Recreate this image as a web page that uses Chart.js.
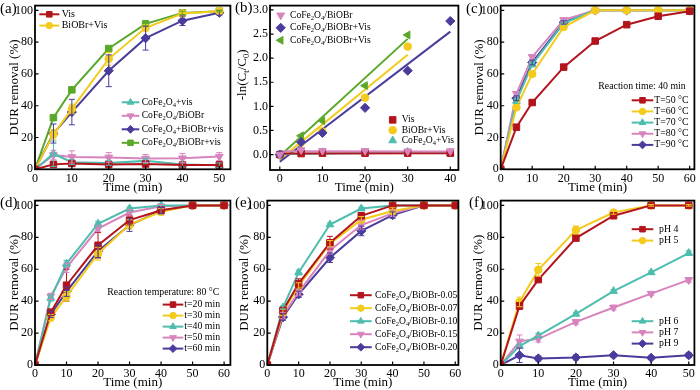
<!DOCTYPE html>
<html>
<head>
<meta charset="utf-8">
<script src="https://cdn.jsdelivr.net/npm/chart.js@4.4.0/dist/chart.umd.min.js"></script>
<style>
  body{margin:0;background:#fff;}
  #fig{position:relative;width:700px;height:390px;overflow:hidden;font-family:"Liberation Serif","Times New Roman",serif;}
  .pane{position:absolute;}
  .tag{position:absolute;font-size:15px;line-height:16px;color:#000;}
</style>
</head>
<body>
<div id="fig">
  <div class="pane" style="left:0;top:0;width:236px;height:195px"><canvas id="pa"></canvas></div>
  <div class="pane" style="left:236px;top:0;width:228px;height:195px"><canvas id="pb"></canvas></div>
  <div class="pane" style="left:464px;top:0;width:236px;height:195px"><canvas id="pc"></canvas></div>
  <div class="pane" style="left:0;top:195px;width:236px;height:195px"><canvas id="pd"></canvas></div>
  <div class="pane" style="left:236px;top:195px;width:228px;height:195px"><canvas id="pe"></canvas></div>
  <div class="pane" style="left:464px;top:195px;width:236px;height:195px"><canvas id="pf"></canvas></div>
  <div class="tag" style="left:0;top:0">(a)</div>
  <div class="tag" style="left:235px;top:-1px">(b)</div>
  <div class="tag" style="left:466px;top:0">(c)</div>
  <div class="tag" style="left:0;top:194px">(d)</div>
  <div class="tag" style="left:235px;top:194px">(e)</div>
  <div class="tag" style="left:469px;top:194px">(f)</div>
</div>
<script>
// ---- (a) DUR removal under different systems
const timeA = [0, 5, 10, 20, 30, 40, 50];
const visA = [0, 3.1, 3.7, 3.0, 3.3, 2.7, 2.7];
const visErrA = [0, 1.5, 1.5, 1.5, 1.5, 1.5, 2.2];
const biobrA = [0, 22, 38, 69.5, 89, 98, 99.5];
const biobrErrA = [0, 3, 3, 4, 2, 1, 1];
const cofeA = [0, 9.8, 4.5, 4, 5.3, 3, 2.5];
const cofeErrA = [0, 8, 1.5, 1.5, 1.5, 1.5, 1.5];
const darkA = [0, 9, 7.8, 7.5, 6.8, 7, 8];
const darkErrA = [0, 3, 3.8, 3, 2.5, 3, 2.5];
const mixA = [0, 22.5, 36, 62, 82.5, 93.5, 98.5];
const mixErrA = [0, 6, 8, 10, 7.5, 3, 1.5];
const compA = [0, 32.5, 50, 76, 91.5, 98.4, 99.5];
const compErrA = [0, 1, 1, 1, 1, 1, 0.5];

// ---- (b) kinetics -ln(Ct/C0)
const timeB = [0, 5, 10, 20, 30, 40];
const timeB30 = [0, 5, 10, 20, 30];
const darkB = [0, 0.094, 0.081, 0.078, 0.07, 0.073];
const mixB = [0, 0.26, 0.45, 0.97, 1.74, 2.77];
const compB = [0, 0.39, 0.70, 1.43, 2.48];
const visB = [0, 0.02, 0.03, 0.03, 0.03, 0.03];
const biobrB = [0, 0.25, 0.48, 1.18, 2.24];
const cofeB = [0, 0.1, 0.046, 0.04, 0.054, 0.03];
const fitX30 = [0, 30];
const fitX40 = [0, 40];
const fitComp = [-0.03, 2.40];
const fitBiobr = [-0.10, 2.07];
const fitMix = [-0.15, 2.55];
const fitVis = [0.02, 0.03];
const fitDark = [0.07, 0.065];
const fitCofe = [0.01, 0.05];

// ---- (c) reaction temperature
const timeC = [0, 5, 10, 20, 30, 40, 50, 60];
const t50 = [0, 26.5, 42, 64.3, 80.7, 91, 96.3, 99.5];
const t60 = [0, 39, 60, 89.5, 100, 100, 100, 100];
const t70 = [0, 43, 66, 92, 100, 100, 100, 100];
const t80 = [0, 47.5, 70.7, 94, 100, 100, 100, 100];
const t90 = [0, 44.7, 67.2, 92.4, 100, 100, 100, 100];
const errC = [0, 1.5, 1.5, 1, 0, 0, 0, 0];

// ---- (d) reaction time
const d20 = [0, 33, 50, 75, 90.8, 97, 100, 100];
const d20Err = [0, 2, 10, 8, 3, 2, 0, 0];
const d30 = [0, 29.7, 43, 69.7, 88, 96, 100, 100];
const d30Err = [0, 2, 3, 4, 3, 2, 0, 0];
const d40 = [0, 42, 63.5, 88.5, 98, 100, 100, 100];
const d40Err = [0, 2, 2, 1.5, 1, 0, 0, 0];
const d50 = [0, 43, 61, 85.5, 95.5, 99.5, 100, 100];
const d50Err = [0, 2, 3, 2, 2, 1, 0, 0];
const d60 = [0, 31.8, 46, 71.3, 87.7, 96.7, 100, 100];
const d60Err = [0, 2, 3, 4, 4, 2, 0, 0];

// ---- (e) catalyst ratio
const e05 = [0, 34.2, 51, 76.6, 93.5, 100, 100, 100];
const e05Err = [0, 2, 3, 4, 2, 1, 0, 0];
const e07 = [0, 33, 49.5, 76, 91, 96.5, 100, 100];
const e07Err = [0, 2, 2, 2, 2, 2, 0, 0];
const e10 = [0, 36, 58, 88, 98, 100, 100, 100];
const e10Err = [0, 1, 1.5, 1, 1, 0, 0, 0];
const e15 = [0, 31, 45.5, 71.7, 87.7, 95, 100, 100];
const e15Err = [0, 2, 2, 2, 3, 2, 0, 0];
const e20 = [0, 30, 44.3, 67.2, 84, 93.9, 100, 100];
const e20Err = [0, 2, 2, 3, 3, 2, 0, 0];

// ---- (f) pH
const timeF = [0, 5, 10, 20, 30, 40, 50];
const ph4 = [0, 37, 53.5, 79.5, 93.5, 100, 100];
const ph4Err = [0, 2, 1.5, 1.5, 1, 0.5, 0.5];
const ph5 = [0, 39.5, 59.6, 84.6, 95.5, 100, 100];
const ph5Err = [0, 3, 4, 2.5, 1, 0.5, 0.5];
const ph6 = [0, 11.9, 18.4, 32, 46.3, 58, 70.1];
const ph6Err = [0, 1, 1.5, 1, 1, 1, 1.5];
const ph7 = [0, 14.8, 16.4, 27, 36, 44.7, 53.3];
const ph7Err = [0, 4, 2, 1.5, 1.5, 1, 1.5];
const ph9 = [0, 6.1, 4.1, 4.7, 6.1, 4.5, 6.1];
const ph9Err = [0, 4.5, 1.5, 1.5, 1, 1, 1.5];

// ticks
const ticksPct = [0, 20, 40, 60, 80, 100];
const ticksX50 = [0, 10, 20, 30, 40, 50];
const ticksX60 = [0, 10, 20, 30, 40, 50, 60];
const ticksXB = [0, 10, 20, 30, 40];
const ticksYB = [0, 0.5, 1.0, 1.5, 2.0, 2.5, 3.0];

const FONT = "'Liberation Serif', 'Times New Roman', serif";
Chart.defaults.font.family = FONT;
Chart.defaults.color = '#000';
Chart.defaults.animation = false;

const ST = {
  red:  {c: '#b3141c', ps: 'rect', r: 4.6},
  yel:  {c: '#f3cb1d', ps: 'circle', r: 3.8},
  cyan: {c: '#4dbdae', ps: 'triangle', r: 4.5},
  pink: {c: '#d884bd', ps: 'triangle', rot: 180, r: 4.5},
  pur:  {c: '#4a3c9c', ps: 'rectRot', r: 4.6},
  grn:  {c: '#5aa829', ps: 'rect', r: 4.6},
  grnL: {c: '#5aa829', ps: 'triangle', rot: -90, r: 4.5}
};

function ser(label, xs, ys, st, errs){
  return {
    label, data: xs.map((x, i) => ({x, y: ys[i]})),
    borderColor: st.c, backgroundColor: st.c, borderWidth: 2,
    pointStyle: st.ps, pointRotation: st.rot || 0, pointRadius: st.r,
    pointBorderWidth: 1, st, errs
  };
}
function dots(label, xs, ys, st){
  const d = ser(label, xs, ys, st);
  d.showLine = false;
  return d;
}
function fit(xs, ys, st){
  return {data: xs.map((x, i) => ({x, y: ys[i]})), borderColor: st.c, borderWidth: 2, pointRadius: 0, isFit: true};
}

// text with "_x" subscripts
function segs(s){
  const out = []; let cur = '';
  for (let i = 0; i < s.length; i++){
    if (s[i] === '_' && i + 1 < s.length){ if (cur) out.push({t: cur}); cur = ''; out.push({t: s[i+1], sub: true}); i++; }
    else cur += s[i];
  }
  if (cur) out.push({t: cur});
  return out;
}
function richW(ctx, s, size){
  let w = 0;
  segs(s).forEach(g => { ctx.font = (g.sub ? size*0.68 : size) + 'px ' + FONT; w += ctx.measureText(g.t).width; });
  return w;
}
function drawRich(ctx, s, x, y, size){
  ctx.textBaseline = 'middle'; ctx.textAlign = 'left'; ctx.fillStyle = '#000';
  segs(s).forEach(g => {
    ctx.font = (g.sub ? size*0.68 : size) + 'px ' + FONT;
    ctx.fillText(g.t, x, g.sub ? y + size*0.3 : y);
    x += ctx.measureText(g.t).width;
  });
}
function marker(ctx, st, x, y, r){
  ctx.save();
  ctx.translate(x, y);
  ctx.rotate((st.rot || 0) * Math.PI / 180);
  ctx.fillStyle = st.c; ctx.strokeStyle = st.c; ctx.lineWidth = 1;
  ctx.beginPath();
  if (st.ps === 'rect'){ const s = r * Math.SQRT1_2; ctx.rect(-s, -s, 2*s, 2*s); }
  else if (st.ps === 'circle'){ ctx.arc(0, 0, r, 0, Math.PI*2); }
  else if (st.ps === 'rectRot'){ ctx.moveTo(0, -r); ctx.lineTo(r, 0); ctx.lineTo(0, r); ctx.lineTo(-r, 0); ctx.closePath(); }
  else { ctx.moveTo(0, -r); ctx.lineTo(r*0.866, r*0.5); ctx.lineTo(-r*0.866, r*0.5); ctx.closePath(); }
  ctx.fill(); ctx.stroke();
  ctx.restore();
}

function decor(p){
  return {
    id: 'decor',
    afterDatasetsDraw(chart){
      const {ctx, scales: {y}} = chart;
      ctx.save();
      ctx.lineWidth = 1;
      chart.data.datasets.forEach((ds, i) => {
        if (!ds.errs) return;
        const meta = chart.getDatasetMeta(i);
        ctx.strokeStyle = ds.borderColor;
        ds.data.forEach((pt, j) => {
          const e = ds.errs[j];
          if (!e) return;
          const px = meta.data[j].x;
          const y1 = y.getPixelForValue(pt.y + e), y2 = y.getPixelForValue(pt.y - e);
          ctx.beginPath();
          ctx.moveTo(px, y1); ctx.lineTo(px, y2);
          ctx.moveTo(px - 3, y1); ctx.lineTo(px + 3, y1);
          ctx.moveTo(px - 3, y2); ctx.lineTo(px + 3, y2);
          ctx.stroke();
        });
      });
      ctx.restore();
    },
    afterDraw(chart){
      const {ctx, chartArea: a, scales: {x, y}} = chart;
      ctx.save();
      ctx.strokeStyle = '#000';
      ctx.lineWidth = 1.2;
      ctx.beginPath();
      x.ticks.forEach(t => { const px = x.getPixelForValue(t.value); ctx.moveTo(px, a.bottom); ctx.lineTo(px, a.bottom - 3.5); });
      y.ticks.forEach(t => { const py = y.getPixelForValue(t.value); ctx.moveTo(a.left, py); ctx.lineTo(a.left + 3.5, py); });
      ctx.stroke();
      ctx.lineWidth = 1.8;
      ctx.strokeRect(a.left, a.top, a.right - a.left, a.bottom - a.top);
      // legends inside the frame
      (p.legends || []).forEach(L => {
        let yy = a.top + L.y;
        if (L.header){ drawRich(ctx, L.header, a.left + L.hx, a.top + L.hy, L.size); }
        L.items.forEach(k => {
          const ds = chart.data.datasets[k];
          const x0 = a.left + L.x;
          if (L.len){
            ctx.strokeStyle = ds.borderColor; ctx.lineWidth = 2;
            ctx.beginPath(); ctx.moveTo(x0, yy); ctx.lineTo(x0 + L.len, yy); ctx.stroke();
            marker(ctx, ds.st, x0 + L.len/2, yy, ds.st.r * 0.85);
          } else {
            marker(ctx, ds.st, x0, yy, ds.st.r);
          }
          drawRich(ctx, ds.label, x0 + L.tx, yy, L.size);
          yy += L.dy;
        });
      });
      if (p.richY){
        ctx.save();
        ctx.translate(p.richY.x, (a.top + a.bottom)/2 + p.richY.dy);
        ctx.rotate(-Math.PI/2);
        const w = richW(ctx, p.richY.text, 13);
        drawRich(ctx, p.richY.text, -w/2, 0, 13);
        ctx.restore();
      }
      ctx.restore();
    }
  };
}

function panel(id, p){
  return new Chart(document.getElementById(id), {
    type: 'line',
    data: {datasets: p.datasets},
    options: {
      responsive: true, maintainAspectRatio: false, devicePixelRatio: 1,
      layout: {padding: {top: p.padTop, right: p.padRight, left: 0, bottom: 0}},
      plugins: {legend: {display: false}, tooltip: {enabled: false}},
      scales: {
        x: {
          type: 'linear', min: p.xMin, max: p.xMax,
          grid: {display: false, drawTicks: false}, border: {display: false},
          ticks: {font: {size: 12}, padding: 2, maxRotation: 0},
          afterBuildTicks: s => { s.ticks = p.xTicks.map(v => ({value: v})); },
          afterFit: s => { s.height = p.xH; s.paddingLeft = 0; s.paddingRight = 0; },
          title: {display: true, text: 'Time (min)', font: {size: 13}, padding: {top: 0, bottom: 0}}
        },
        y: {
          type: 'linear', min: p.yMin, max: p.yMax,
          grid: {display: false, drawTicks: false}, border: {display: false},
          ticks: {font: {size: 12}, padding: 2, callback: p.yFmt || (v => v)},
          afterBuildTicks: s => { s.ticks = p.yTicks.map(v => ({value: v})); },
          afterFit: s => { s.width = p.yW; s.paddingTop = 0; s.paddingBottom = 0; },
          title: {display: !p.richY, text: 'DUR removal (%)', font: {size: 13}, padding: {top: p.yTitlePad, bottom: 0}}
        }
      }
    },
    plugins: [decor(p)]
  });
}

// (a)
panel('pa', {
  datasets: [
    ser('Vis', timeA, visA, ST.red, visErrA),
    ser('BiOBr+Vis', timeA, biobrA, ST.yel, biobrErrA),
    ser('CoFe_2O_4+vis', timeA, cofeA, ST.cyan, cofeErrA),
    ser('CoFe_2O_4/BiOBr', timeA, darkA, ST.pink, darkErrA),
    ser('CoFe_2O_4+BiOBr+vis', timeA, mixA, ST.pur, mixErrA),
    ser('CoFe_2O_4/BiOBr+vis', timeA, compA, ST.grn, compErrA)
  ],
  xMin: 0, xMax: 53, xTicks: ticksX50, yMin: 0, yMax: 103, yTicks: ticksPct,
  yW: 35, xH: 25.7, padTop: 2, padRight: 4, yTitlePad: 7,
  legends: [
    {x: 4.3, len: 20, tx: 22.4, y: 8.7, dy: 11.3, size: 10, items: [0, 1]},
    {x: 86.7, len: 17.6, tx: 20, y: 96.7, dy: 13.5, size: 9.6, items: [2, 3, 4, 5]}
  ]
});

// (b)
panel('pb', {
  datasets: [
    dots('CoFe_2O_4/BiOBr', timeB, darkB, ST.pink),
    dots('CoFe_2O_4/BiOBr+Vis', timeB, mixB, ST.pur),
    dots('CoFe_2O_4/BiOBr+Vis', timeB30, compB, ST.grnL),
    dots('Vis', timeB, visB, ST.red),
    dots('BiOBr+Vis', timeB30, biobrB, ST.yel),
    dots('CoFe_2O_4+Vis', timeB, cofeB, ST.cyan),
    fit(fitX40, fitDark, ST.pink),
    fit(fitX40, fitVis, ST.red),
    fit(fitX40, fitCofe, ST.cyan),
    fit(fitX40, fitMix, ST.pur),
    fit(fitX30, fitBiobr, ST.yel),
    fit(fitX30, fitComp, ST.grn)
  ],
  xMin: -2.3, xMax: 41.9, xTicks: ticksXB, yMin: -0.32, yMax: 3.09, yTicks: ticksYB,
  yFmt: v => v.toFixed(1),
  yW: 34, xH: 25, padTop: 3, padRight: 3,
  richY: {text: '-ln(C_t/C_0)', x: 7, dy: -13},
  legends: [
    {x: 10.7, tx: 9.3, y: 9.7, dy: 12.5, size: 9.6, items: [0, 1, 2]},
    {x: 122.7, tx: 9, y: 114.3, dy: 10.3, size: 9.6, items: [3, 4, 5]}
  ]
});

// (c)
panel('pc', {
  datasets: [
    ser('T=50 °C', timeC, t50, ST.red, errC),
    ser('T=60 °C', timeC, t60, ST.yel, errC),
    ser('T=70 °C', timeC, t70, ST.cyan, errC),
    ser('T=80 °C', timeC, t80, ST.pink, errC),
    ser('T=90 °C', timeC, t90, ST.pur, errC)
  ],
  xMin: 0, xMax: 61.5, xTicks: ticksX60, yMin: 0, yMax: 103, yTicks: ticksPct,
  yW: 36.7, xH: 25.7, padTop: 2, padRight: 3, yTitlePad: 8.2,
  legends: [
    {header: 'Reaction time: 40 min', hx: 97.6, hy: 80.7,
     x: 131, len: 21.6, tx: 22.6, y: 94.7, dy: 11.15, size: 9.8, items: [0, 1, 2, 3, 4]}
  ]
});

// (d)
panel('pd', {
  datasets: [
    ser('t=20 min', timeC, d20, ST.red, d20Err),
    ser('t=30 min', timeC, d30, ST.yel, d30Err),
    ser('t=40 min', timeC, d40, ST.cyan, d40Err),
    ser('t=50 min', timeC, d50, ST.pink, d50Err),
    ser('t=60 min', timeC, d60, ST.pur, d60Err)
  ],
  xMin: 0, xMax: 62, xTicks: ticksX60, yMin: 0, yMax: 103, yTicks: ticksPct,
  yW: 35, xH: 25, padTop: 2.7, padRight: 3, yTitlePad: 7.2,
  legends: [
    {header: 'Reaction temperature: 80 °C', hx: 72.3, hy: 92,
     x: 127.7, len: 20.6, tx: 21.6, y: 104, dy: 11, size: 9.8, items: [0, 1, 2, 3, 4]}
  ]
});

// (e)
panel('pe', {
  datasets: [
    ser('CoFe_2O_4/BiOBr-0.05', timeC, e05, ST.red, e05Err),
    ser('CoFe_2O_4/BiOBr-0.07', timeC, e07, ST.yel, e07Err),
    ser('CoFe_2O_4/BiOBr-0.10', timeC, e10, ST.cyan, e10Err),
    ser('CoFe_2O_4/BiOBr-0.15', timeC, e15, ST.pink, e15Err),
    ser('CoFe_2O_4/BiOBr-0.20', timeC, e20, ST.pur, e20Err)
  ],
  xMin: 0, xMax: 61, xTicks: ticksX60, yMin: 0, yMax: 103, yTicks: ticksPct,
  yW: 31.3, xH: 25, padTop: 2.7, padRight: 3, yTitlePad: 1.2,
  legends: [
    {x: 82.7, len: 21.7, tx: 25, y: 94.6, dy: 13, size: 9.6, items: [0, 1, 2, 3, 4]}
  ]
});

// (f)
panel('pf', {
  datasets: [
    ser('pH 4', timeF, ph4, ST.red, ph4Err),
    ser('pH 5', timeF, ph5, ST.yel, ph5Err),
    ser('pH 6', timeF, ph6, ST.cyan, ph6Err),
    ser('pH 7', timeF, ph7, ST.pink, ph7Err),
    ser('pH 9', timeF, ph9, ST.pur, ph9Err)
  ],
  xMin: 0, xMax: 51.5, xTicks: ticksX50, yMin: 0, yMax: 103, yTicks: ticksPct,
  yW: 36.7, xH: 25, padTop: 2.7, padRight: 3, yTitlePad: 7.2,
  legends: [
    {x: 131, len: 21.6, tx: 27.3, y: 28.6, dy: 11.4, size: 9.8, items: [0, 1]},
    {x: 131, len: 21.6, tx: 27.3, y: 120.6, dy: 11.2, size: 9.8, items: [2, 3, 4]}
  ]
});
</script>
</body>
</html>
